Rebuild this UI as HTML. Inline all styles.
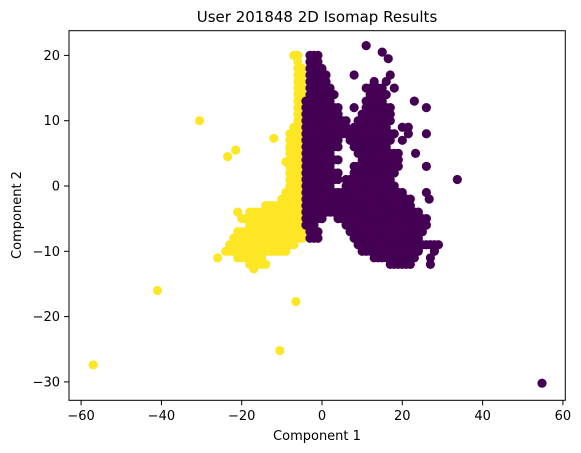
<!DOCTYPE html>
<html><head><meta charset="utf-8"><style>
body{margin:0;background:#fff}
svg{display:block;font-family:"DejaVu Sans","Liberation Sans",sans-serif}
</style></head><body>
<svg id="chart" width="581" height="453" viewBox="0 0 581 453" xmlns="http://www.w3.org/2000/svg">
<rect width="581" height="453" fill="#fff"/>
<text x="317" y="22" text-anchor="middle" font-size="15">User 201848 2D Isomap Results</text>
<g id="marks"></g>
<g id="axes"></g>
<rect x="69" y="30.7" width="496.3" height="369.6" fill="none" stroke="#000" stroke-width="1"/>
<text x="317" y="440" text-anchor="middle" font-size="13">Component 1</text>
<text transform="translate(21,215) rotate(-90)" text-anchor="middle" font-size="13">Component 2</text>
</svg>
<script>
const xTicks = [-60,-40,-20,0,20,40,60];
const yTicks = [-30,-20,-10,0,10,20];
// each row: y value, and runs of x extents [start,end, start,end, ...] (points every 1 unit)
const purpleRowY = [20,19,18,17,16,15,14,13,12,11,10,9,8,7,6,5,4,3,2,1,0,-1,-2,-3,-4,-5,-6,-7,-8,-9,-10,-11,-12];
const purpleRuns = [
[-3,-1],[-3,-1],[-3,0],[-3,1,8,8,17,17],[-3,1,13,13,16,16],[-3,2,11,15,18,18],[-3,3,12,16],
[-4,2,11,15,23,23],[-4,4,8,8,11,17,26,26],[-4,4,10,17],[-4,6,9,17],
[-4,6,8,16,20,20,21.5,21.5],[-4,18,21.5,21.5,26,26],[-4,4,7,17,20,20],
[-4,4,8,16],[-4,2,9,19,23.3,23.3],[-4,4,10,19],[-4,2,8,19,26,26],
[-4,4,8,18],[-4,4,6,17,33.7,33.7],[-4,2,6,18],
[-4,20,26,26],[-4,22,26.7,26.7],[-4,22],
[-4,24],[-4,0,4,26],[-4,-2,6,26],
[-3,-1,7,25],[-3,-1,8,24],[9,29],
[10,24,28,28],[13,23,27,27],[17,22,27,27]];
const purpleExtraX = [11,15,16.5,54.8];
const purpleExtraY = [21.5,20.5,19.5,-30.2];
const yellowRowY = [20,19,18,17,16,15,14,13,12,11,10,9,8,7,6,5,4,3,2,1,0,-1,-2,-3,-4,-5,-6,-7,-8,-9,-10,-11,-12,-12.7];
const yellowRuns = [
[-7,-6],[-6,-6],[-6,-5],[-6,-5],[-6,-5],[-6,-5],[-6,-5],[-6,-5],[-6,-5],[-6,-5],[-6,-5],[-7,-5],
[-8,-5],[-8,-5],[-8,-5],[-8,-5],[-8,-5],[-8,-5],[-8,-5],[-8,-5],[-8,-5],[-9,-5],[-10,-5],[-14,-5],
[-21,-21,-18,-5],[-20,-5],[-18,-5],[-21,-5],[-22,-5],[-23,-7],
[-24,-9],[-26,-26,-21,-15],[-18,-14],[-17,-17]];
const yellowExtraX = [-30.5,-12,-21.5,-23.5,-41,-6.5,-10.5,-57,-9,-8];
const yellowExtraY = [10,7.3,5.5,4.5,-16,-17.7,-25.2,-27.4,3.7,5.8];

const NS = "http://www.w3.org/2000/svg";
const xs = v => 322 + v * 4.015;
const ys = v => 186 - v * 6.53;
const marks = document.getElementById('marks');
const axes = document.getElementById('axes');

function dot(x, y, color, name) {
  const c = document.createElementNS(NS, 'circle');
  c.setAttribute('cx', xs(x)); c.setAttribute('cy', ys(y));
  c.setAttribute('r', 4.6); c.setAttribute('fill', color);
  
  
  marks.appendChild(c);
}
function drawRuns(rowY, runs, color, name) {
  rowY.forEach((y, i) => {
    const r = runs[i];
    for (let k = 0; k < r.length; k += 2) {
      for (let x = r[k]; x <= r[k + 1] + 1e-9; x += 1) dot(x, y, color, name);
    }
  });
}
drawRuns(yellowRowY, yellowRuns, '#fde725', 'yellow-point');
yellowExtraX.forEach((x, i) => dot(x, yellowExtraY[i], '#fde725', 'yellow-point'));
drawRuns(purpleRowY, purpleRuns, '#440154', 'purple-point');
purpleExtraX.forEach((x, i) => dot(x, purpleExtraY[i], '#440154', 'purple-point'));

xTicks.forEach(t => {
  const l = document.createElementNS(NS, 'line');
  l.setAttribute('x1', xs(t)); l.setAttribute('x2', xs(t));
  l.setAttribute('y1', 400.3); l.setAttribute('y2', 405.3);
  l.setAttribute('stroke', '#000');
  
  
  axes.appendChild(l);
  const tx = document.createElementNS(NS, 'text');
  tx.setAttribute('x', xs(t)); tx.setAttribute('y', 420);
  tx.setAttribute('text-anchor', 'middle'); tx.setAttribute('font-size', '13');
  tx.textContent = t < 0 ? '\u2212' + (-t) : String(t);
  
  
  axes.appendChild(tx);
});
yTicks.forEach(t => {
  const l = document.createElementNS(NS, 'line');
  l.setAttribute('x1', 64); l.setAttribute('x2', 69);
  l.setAttribute('y1', ys(t)); l.setAttribute('y2', ys(t));
  l.setAttribute('stroke', '#000');
  
  
  axes.appendChild(l);
  const tx = document.createElementNS(NS, 'text');
  tx.setAttribute('x', 60); tx.setAttribute('y', ys(t) + 4.5);
  tx.setAttribute('text-anchor', 'end'); tx.setAttribute('font-size', '13');
  tx.textContent = t < 0 ? '\u2212' + (-t) : String(t);
  
  
  axes.appendChild(tx);
});
</script>
</body></html>
